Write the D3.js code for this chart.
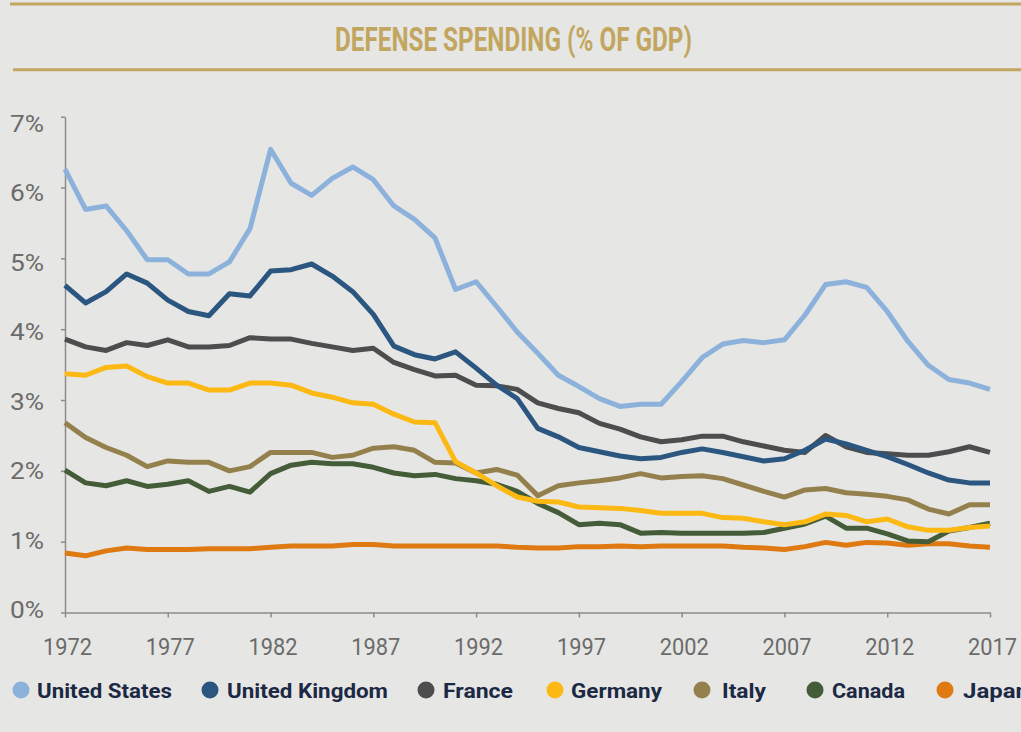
<!DOCTYPE html>
<head>
  <meta charset="utf-8">
  <style>
    body { margin: 0; background: #e6e6e4; }
    svg { display: block; }
    .axis text { fill: #6b6b6b; font-family: Roboto, 'DejaVu Sans', sans-serif; }
    .axis path, .axis line { stroke: #8c8c8c; stroke-width: 1.5; }
  </style>
</head>

<body>
  <script src="https://cdn.jsdelivr.net/npm/d3@7"></script>
  <script>
    // ---- data (% of GDP) ----
    const years = [1972, 1973, 1974, 1975, 1976, 1977, 1978, 1979, 1980, 1981, 1982, 1983,
      1984, 1985, 1986, 1987, 1988, 1989, 1990, 1991, 1992, 1993, 1994, 1995, 1996, 1997,
      1998, 1999, 2000, 2001, 2002, 2003, 2004, 2005, 2006, 2007, 2008, 2009, 2010, 2011,
      2012, 2013, 2014, 2015, 2016, 2017];
    const tickYears = [1972, 1977, 1982, 1987, 1992, 1997, 2002, 2007, 2012, 2017];
    const tickPercents = [0, 1, 2, 3, 4, 5, 6, 7];

    const unitedStates = [6.26, 5.69, 5.74, 5.39, 4.98, 4.98, 4.78, 4.78, 4.95, 5.42, 6.54, 6.06,
      5.89, 6.13, 6.29, 6.11, 5.74, 5.55, 5.29, 4.56, 4.67, 4.32, 3.96, 3.66, 3.35, 3.19,
      3.02, 2.91, 2.94, 2.94, 3.26, 3.60, 3.79, 3.84, 3.81, 3.85, 4.20, 4.63, 4.67, 4.59,
      4.25, 3.83, 3.49, 3.29, 3.24, 3.15];
    const unitedKingdom = [4.62, 4.37, 4.53, 4.78, 4.65, 4.41, 4.25, 4.19, 4.50, 4.47, 4.82, 4.84,
      4.92, 4.75, 4.53, 4.21, 3.76, 3.64, 3.58, 3.68, 3.45, 3.21, 3.02, 2.60, 2.48, 2.33,
      2.27, 2.21, 2.17, 2.19, 2.26, 2.31, 2.26, 2.20, 2.14, 2.17, 2.29, 2.45, 2.38, 2.29,
      2.20, 2.09, 1.97, 1.87, 1.83, 1.83];
    const france = [3.86, 3.75, 3.70, 3.81, 3.77, 3.85, 3.75, 3.75, 3.77, 3.88, 3.86, 3.86,
      3.80, 3.75, 3.70, 3.73, 3.53, 3.43, 3.34, 3.35, 3.21, 3.20, 3.15, 2.96, 2.88, 2.82,
      2.67, 2.59, 2.48, 2.41, 2.44, 2.49, 2.49, 2.41, 2.35, 2.29, 2.26, 2.50, 2.34, 2.26,
      2.24, 2.22, 2.22, 2.27, 2.34, 2.26];
    const germany = [3.37, 3.35, 3.46, 3.48, 3.33, 3.24, 3.24, 3.14, 3.14, 3.24, 3.24, 3.21,
      3.10, 3.04, 2.96, 2.94, 2.80, 2.69, 2.68, 2.13, 1.97, 1.79, 1.63, 1.57, 1.56, 1.49,
      1.48, 1.47, 1.44, 1.40, 1.40, 1.40, 1.34, 1.33, 1.28, 1.24, 1.28, 1.39, 1.37, 1.28,
      1.32, 1.21, 1.16, 1.16, 1.20, 1.22];
    const italy = [2.68, 2.47, 2.33, 2.22, 2.06, 2.14, 2.12, 2.12, 2.00, 2.06, 2.26, 2.26,
      2.26, 2.19, 2.22, 2.32, 2.34, 2.29, 2.12, 2.11, 1.97, 2.02, 1.94, 1.65, 1.79, 1.83,
      1.86, 1.90, 1.96, 1.90, 1.92, 1.93, 1.89, 1.80, 1.71, 1.63, 1.73, 1.75, 1.69, 1.67,
      1.64, 1.59, 1.46, 1.39, 1.52, 1.52];
    const canada = [2.01, 1.83, 1.79, 1.86, 1.78, 1.81, 1.86, 1.71, 1.78, 1.70, 1.96, 2.08,
      2.12, 2.10, 2.10, 2.05, 1.97, 1.93, 1.95, 1.89, 1.86, 1.81, 1.71, 1.54, 1.41, 1.24,
      1.26, 1.24, 1.12, 1.13, 1.12, 1.12, 1.12, 1.12, 1.13, 1.19, 1.25, 1.36, 1.19, 1.19,
      1.11, 1.01, 1.00, 1.15, 1.20, 1.26];
    const japan = [0.84, 0.80, 0.87, 0.91, 0.89, 0.89, 0.89, 0.90, 0.90, 0.90, 0.92, 0.94,
      0.94, 0.94, 0.96, 0.96, 0.94, 0.94, 0.94, 0.94, 0.94, 0.94, 0.92, 0.91, 0.91, 0.93,
      0.93, 0.94, 0.93, 0.94, 0.94, 0.94, 0.94, 0.92, 0.91, 0.89, 0.93, 0.99, 0.95, 0.99,
      0.98, 0.95, 0.97, 0.97, 0.94, 0.92];

    const countries = ["United States", "United Kingdom", "France", "Germany", "Italy", "Canada", "Japan"];
    const seriesValues = [unitedStates, unitedKingdom, france, germany, italy, canada, japan];
    const colors = ["#8cb2dc", "#2b5680", "#4d4d4d", "#fdb913", "#94804c", "#445c38", "#df7a12"];

    // ---- layout ----
    const width = 1021, height = 732;
    const plot = {left: 65, right: 990, top: 116.7, bottom: 612.5};
    const gold = "#c2a660";
    // legend entry placement (marker centre, label start, label width)
    const legendLayout = [
      {cx: 21, tx: 37, w: 135}, {cx: 210, tx: 227, w: 161}, {cx: 426, tx: 443, w: 70},
      {cx: 555, tx: 571, w: 91}, {cx: 702, tx: 722, w: 44}, {cx: 815, tx: 832, w: 73},
      {cx: 945, tx: 963, w: 66}
    ];

    const svg = d3.select("body").append("svg")
      .attr("width", width)
      .attr("height", height)
      .style("background", "#e6e6e4");

    // title with rules above and below
    svg.append("line").attr("x1", 10).attr("x2", width).attr("y1", 4).attr("y2", 4)
      .attr("stroke", gold).attr("stroke-width", 3);
    svg.append("line").attr("x1", 13).attr("x2", width).attr("y1", 69.7).attr("y2", 69.7)
      .attr("stroke", gold).attr("stroke-width", 3);
    svg.append("text")
      .attr("x", 513.5).attr("y", 50.5)
      .attr("text-anchor", "middle")
      .attr("textLength", 357).attr("lengthAdjust", "spacingAndGlyphs")
      .style("font-family", "Roboto, 'DejaVu Sans', sans-serif")
      .style("font-weight", 700).style("font-size", "34px")
      .style("fill", gold)
      .text("DEFENSE SPENDING (% OF GDP)");

    // scales
    const x = d3.scaleLinear().domain([1972, 2017]).range([plot.left, plot.right]);
    const y = d3.scaleLinear().domain([0, 7]).range([plot.bottom, plot.top]);
    // the percent labels sit on a slightly tighter spacing than the ticks
    const yLabel = d3.scaleLinear().domain([0, 7]).range([609, 122.5]);

    // y axis
    svg.append("g")
      .attr("class", "axis")
      .attr("transform", "translate(" + plot.left + ",0)")
      .call(d3.axisLeft(y).tickValues(tickPercents).tickSize(4).tickSizeOuter(0)
        .tickFormat(d => d + "%"))
      .call(g => g.selectAll(".tick text")
        .attr("x", -21)
        .attr("dy", 0)
        .attr("y", d => yLabel(d) - y(d) + 8.5)
        .style("font-size", "24px")
        .attr("textLength", 34).attr("lengthAdjust", "spacingAndGlyphs"));

    // x axis
    svg.append("g")
      .attr("class", "axis")
      .attr("transform", "translate(0," + plot.bottom + ")")
      .call(d3.axisBottom(x).tickValues(tickYears).tickSize(5).tickSizeOuter(0)
        .tickFormat(d3.format("d")))
      .call(g => g.selectAll(".tick text")
        .attr("y", 42)
        .attr("dy", 0)
        .attr("x", 2)
        .style("font-size", "24px")
        .attr("textLength", 49).attr("lengthAdjust", "spacingAndGlyphs"));

    // lines: first legend entry ends up on top
    const line = d3.line()
      .x((d, i) => x(years[i]))
      .y(d => y(d));

    const order = d3.range(countries.length).reverse();
    svg.append("g").selectAll("path")
      .data(order).enter().append("path")
      .attr("d", i => line(seriesValues[i]))
      .attr("fill", "none")
      .attr("stroke", i => colors[i])
      .attr("stroke-width", 5)
      .attr("stroke-linejoin", "round");

    // legend
    const legend = svg.append("g").selectAll("g")
      .data(countries).enter().append("g");
    legend.append("circle")
      .attr("cx", (d, i) => legendLayout[i].cx).attr("cy", 690).attr("r", 8.5)
      .attr("fill", (d, i) => colors[i]);
    legend.append("text")
      .attr("x", (d, i) => legendLayout[i].tx).attr("y", 697.5)
      .attr("textLength", (d, i) => legendLayout[i].w)
      .attr("lengthAdjust", "spacingAndGlyphs")
      .style("font-family", "Roboto, 'DejaVu Sans', sans-serif")
      .style("font-weight", 700).style("font-size", "21px")
      .style("fill", "#1b2944")
      .text(d => d);
  </script>
</body>
